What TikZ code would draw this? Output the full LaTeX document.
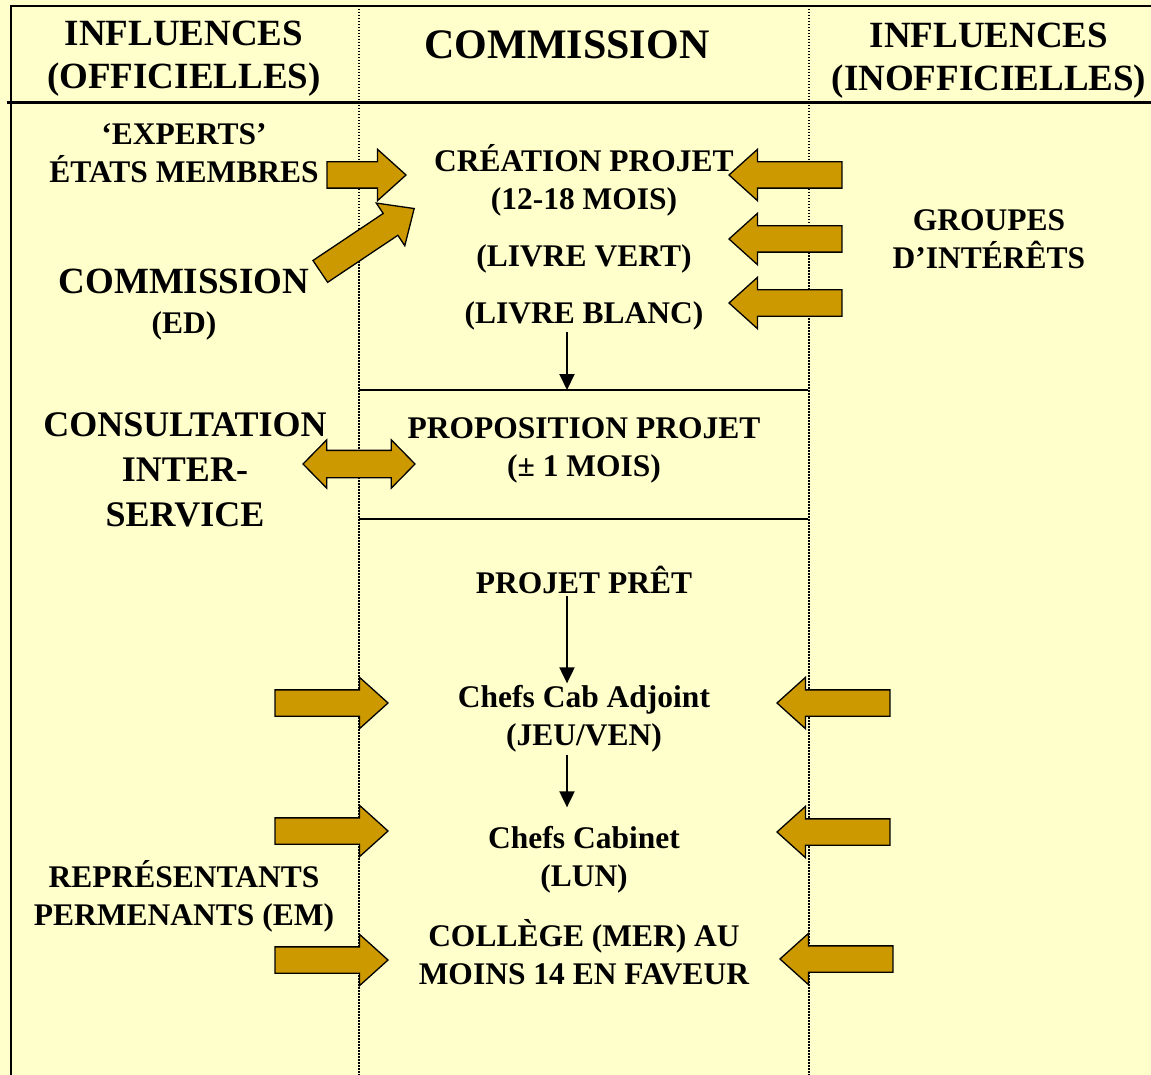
\documentclass[tikz,border=0pt]{standalone}
\usepackage{fontspec}
\setmainfont{Liberation Serif}
\usepackage{tikz}
\usetikzlibrary{shapes.arrows, arrows.meta, calc}

\definecolor{paper}{HTML}{FFFFCC}
\definecolor{gold}{HTML}{CC9900}

\newcommand{\headfont}{\bfseries\fontsize{37}{43}\selectfont}
\newcommand{\bigfont}{\bfseries\fontsize{42}{48}\selectfont}
\newcommand{\midfont}{\bfseries\fontsize{36}{45}\selectfont}
\newcommand{\bodyfont}{\bfseries\fontsize{31.5}{38}\selectfont}

\tikzset{
    txt/.style={align=center, inner sep=2pt},
    dotline/.style={line width=1.5pt, dash pattern=on 1.5pt off 1.5pt},
    fatarrow/.style={single arrow, draw=black, fill=gold, line width=1.3pt,
        inner xsep=0pt, inner ysep=12.5pt, single arrow head extend=12.5pt,
        single arrow tip angle=84, anchor=tip},
    twoway/.style={double arrow, draw=black, fill=gold, line width=1.3pt,
        inner xsep=0pt, inner ysep=13pt, double arrow head extend=10.5pt,
        double arrow tip angle=91, minimum height=112pt},
    thinarrow/.style={-{Triangle[length=16pt,width=15pt]}, line width=2pt}
}

\begin{document}
\begin{tikzpicture}[x=1pt, y=-1pt]
    % Background and frame
    \fill[paper] (0,0) rectangle (1151,1075);
    \useasboundingbox (0,0) rectangle (1151,1075);
    \draw[line width=2pt] (11,1075) -- (11,6) -- (1151,6);
    \draw[line width=3pt] (7,103) -- (1151,103);
    \draw[dotline] (359,6) -- (359,1075);
    \draw[dotline] (809,6) -- (809,1075);
    \draw[line width=2.5pt] (359,390) -- (808,390);
    \draw[line width=2.5pt] (359,519) -- (808,519);
    \coordinate (sep1) at (567,390);
    \coordinate (mid) at (567,0);

    % Column headings
    \node[txt, font=\headfont] (offi) at (184,59) {INFLUENCES\\(OFFICIELLES)};
    \node[txt, font=\bigfont] (comhead) at (567,45) {COMMISSION};
    \node[txt, font=\headfont] (inoffi) at (989,61) {INFLUENCES\\(INOFFICIELLES)};

    % Left column
    \node[txt, font=\bodyfont, align=center] (experts) at (184,153)
        {\fontsize{31.5}{35}\selectfont `EXPERTS'\\ÉTATS MEMBRES};
    \node[txt, font=\headfont] (comm) at (184,281) {COMMISSION};
    \node[txt, font=\bodyfont] (ed) at (184,326) {(ED)};
    \node[txt, font=\midfont] (consult) at (185,470) {CONSULTATION\\INTER-\\SERVICE};
    \node[txt, font=\bodyfont] (reps) at (184,896) {REPRÉSENTANTS\\PERMENANTS (EM)};

    % Middle column
    \node[txt, font=\bodyfont] (creation) at (584,180)
        {\fontsize{31.5}{37}\selectfont CRÉATION PROJET\\(12-18 MOIS)};
    \node[txt, font=\bodyfont] (vert) at (584,259) {(LIVRE VERT)};
    \node[txt, font=\bodyfont] (blanc) at (584,316) {(LIVRE BLANC)};
    \node[txt, font=\bodyfont] (propo) at (584,450) {PROPOSITION PROJET\\(± 1 MOIS)};
    \node[txt, font=\bodyfont] (pret) at (584,580) {PROJET PRÊT};
    \node[txt, font=\bodyfont] (adjoint) at (584,719)
        {\fontsize{31.5}{40}\selectfont Chefs Cab Adjoint\\(JEU/VEN)};
    \node[txt, font=\bodyfont] (cabinet) at (584,860)
        {\fontsize{31.5}{46}\selectfont Chefs Cabinet\\(LUN)};
    \node[txt, font=\bodyfont] (college) at (584,952) {COLLÈGE (MER) AU\\MOINS 14 EN FAVEUR};

    % Right column
    \node[txt, font=\bodyfont] (groupes) at (989,239)
        {\fontsize{31.5}{37}\selectfont GROUPES\\D’INTÉRÊTS};

    % Flow inside the commission
    \draw[thinarrow] (blanc.south -| sep1) -- (sep1);
    \draw[thinarrow] (pret.south -| mid) -- (adjoint.north -| mid);
    \draw[thinarrow, shorten >=17pt] (adjoint.south -| mid) -- (cabinet.north -| mid);

    % Block arrows, official side
    \node[fatarrow, minimum height=79pt] (expin) at (407,175) {};
    \node[fatarrow, rotate=33.8, minimum height=113pt] (edin) at (415,208) {};
    \node[twoway] (isc) at (359,464) {};
    \foreach \y/\n in {703/1, 831/2, 960/3}
        \node[fatarrow, minimum height=113pt] (rep\n) at (389,\y) {};

    % Block arrows, unofficial side
    \foreach \y/\n in {175/1, 239/2, 303/3}
        \node[fatarrow, rotate=180, minimum height=113pt] (grp\n) at (728,\y) {};
    \foreach \x/\y/\n in {776/703/1, 776/832/2, 779/959/3}
        \node[fatarrow, rotate=180, minimum height=113pt] (lob\n) at (\x,\y) {};
\end{tikzpicture}
\end{document}
